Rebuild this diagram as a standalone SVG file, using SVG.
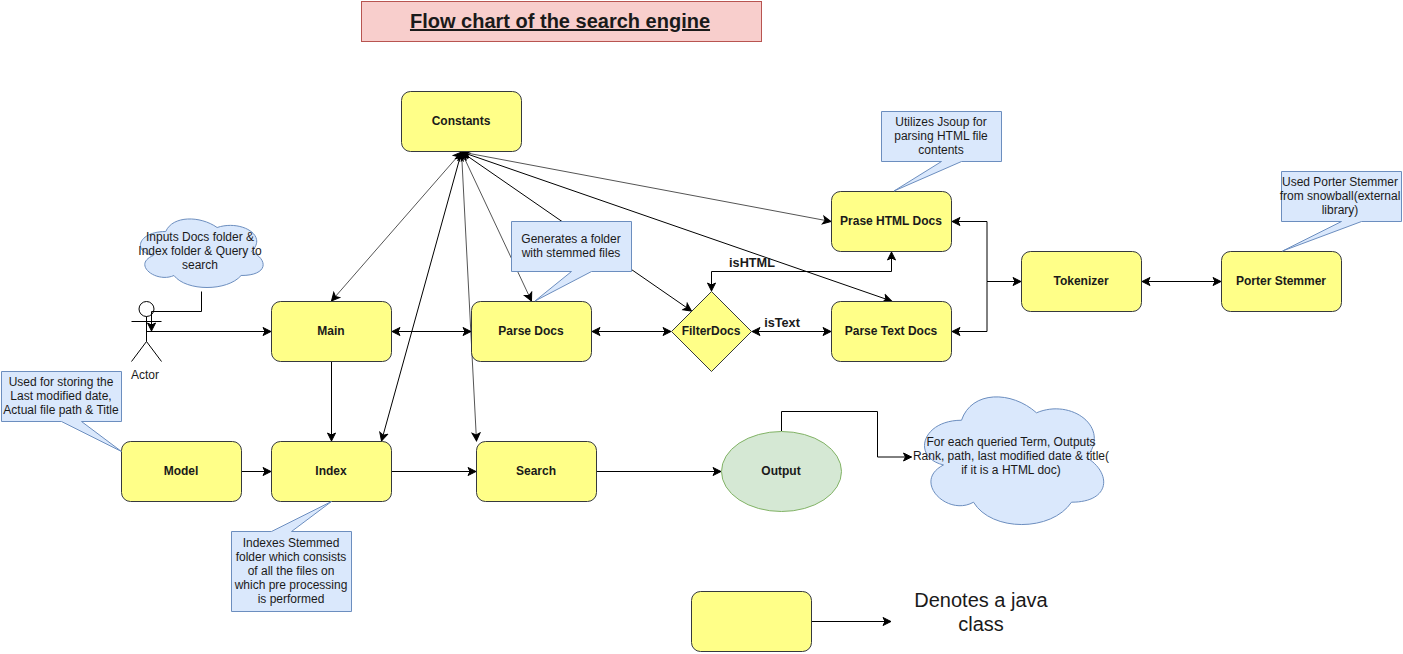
<svg xmlns="http://www.w3.org/2000/svg" width="1403" height="654" viewBox="0 0 1403 654">
<style>
text{font-family:"Liberation Sans",Arial,Helvetica,sans-serif;font-size:12px;fill:#1a1a1a;text-anchor:middle}
.b{font-weight:bold}
.box{fill:#ffff88;stroke:#36393d;stroke-width:1}
.note{fill:#dae8fc;stroke:#6c8ebf;stroke-width:1}
.c{fill:none;stroke:#000;stroke-width:1;marker-end:url(#a)}
.d{fill:none;stroke:#000;stroke-width:1;marker-start:url(#a);marker-end:url(#a)}
.g{stroke:#555}
.actor{fill:none;stroke:#000;stroke-width:1}
</style>
<defs>
<marker id="a" markerUnits="userSpaceOnUse" markerWidth="12" markerHeight="12" viewBox="-9 -6 12 12" refX="0" refY="0" orient="auto-start-reverse">
<path d="M-8,-4 L0,0 L-8,4 L-6,0 Z" fill="#000" stroke="#000" stroke-width="1"/>
</marker>
<path id="cloud" d="M0.25,0.25 C0.05,0.25 0,0.5 0.16,0.55 C0,0.66 0.18,0.9 0.31,0.8 C0.4,1 0.7,1 0.8,0.8 C1,0.8 1,0.6 0.875,0.5 C1,0.3 0.8,0.1 0.625,0.2 C0.5,0.05 0.3,0.05 0.25,0.25 Z" vector-effect="non-scaling-stroke"/>
</defs>
<g id="connectors">
<path class="c" d="M201.5,291.5 V311.5 H151.5 V331"/>
<path class="c" d="M146.5,331.5 H271"/>
<path class="d g" d="M461.5,152 L331.5,301"/>
<path class="d" d="M461.5,152 L381.5,441"/>
<path class="d g" d="M461.5,152 L476.5,441"/>
<path class="d g" d="M461.5,152 L531.5,301"/>
<path class="d" d="M461.5,152 L691.5,311"/>
<path class="d" d="M461.5,152 L891.5,301"/>
<path class="d g" d="M461.5,152 L831,221.5"/>
<path class="d" d="M392,331.5 H471"/>
<path class="d" d="M592,331.5 H671"/>
<path class="d" d="M752,331.5 H831"/>
<path class="d" d="M711.5,291 V271.5 H891.5 V252"/>
<path class="d" d="M952,221.5 H987 V281.5 H1021"/>
<path class="c" d="M987,281.5 V331.5 H952"/>
<path class="d" d="M1142,281.5 H1221"/>
<path class="c" d="M331.5,362 V441"/>
<path class="c" d="M242,471.5 H271"/>
<path class="c" d="M392,471.5 H476"/>
<path class="c" d="M597,471.5 H721"/>
<path class="c" d="M781.5,431 V411.5 H877.5 V457 H911.5"/>
<path class="c" d="M812,621.5 H891"/>
</g>
<g id="title"><rect x="361.5" y="1.5" width="400" height="40" fill="#f8cecc" stroke="#b85450"/><text x="560" y="28" class="b" style="font-size:20px;text-decoration:underline">Flow chart of the search engine</text></g>
<g id="constants"><rect class="box" x="401.5" y="91.5" width="120" height="60" rx="9"/><text x="461" y="125" class="b">Constants</text></g>
<g id="main"><rect class="box" x="271.5" y="301.5" width="120" height="60" rx="9"/><text x="331" y="335" class="b">Main</text></g>
<g id="parse-docs"><rect class="box" x="471.5" y="301.5" width="120" height="60" rx="9"/><text x="531" y="335" class="b">Parse Docs</text></g>
<g id="filter-docs"><path class="box" d="M671.5,331.5 L711.5,291.5 L751.5,331.5 L711.5,371.5 Z"/><text x="711" y="335" class="b">FilterDocs</text></g>
<g id="parse-html"><rect class="box" x="831.5" y="191.5" width="120" height="60" rx="9"/><text x="891" y="225" class="b">Prase HTML Docs</text></g>
<g id="parse-text"><rect class="box" x="831.5" y="301.5" width="120" height="60" rx="9"/><text x="891" y="335" class="b">Parse Text Docs</text></g>
<g id="tokenizer"><rect class="box" x="1021.5" y="251.5" width="120" height="60" rx="9"/><text x="1081" y="285" class="b">Tokenizer</text></g>
<g id="porter-stemmer"><rect class="box" x="1221.5" y="251.5" width="120" height="60" rx="9"/><text x="1281" y="285" class="b">Porter Stemmer</text></g>
<g id="model"><rect class="box" x="121.5" y="441.5" width="120" height="60" rx="9"/><text x="181" y="475" class="b">Model</text></g>
<g id="index"><rect class="box" x="271.5" y="441.5" width="120" height="60" rx="9"/><text x="331" y="475" class="b">Index</text></g>
<g id="search"><rect class="box" x="476.5" y="441.5" width="120" height="60" rx="9"/><text x="536" y="475" class="b">Search</text></g>
<g id="output"><ellipse cx="781.5" cy="471.5" rx="60" ry="40" fill="#d5e8d4" stroke="#82b366"/><text x="781" y="475" class="b">Output</text></g>
<g id="legend-class"><rect class="box" x="691.5" y="591.5" width="120" height="60" rx="9"/></g>
<g id="legend-text"><text x="981" y="607" style="font-size:20px">Denotes a java</text><text x="981" y="631" style="font-size:20px">class</text></g>
<g id="actor"><circle class="actor" cx="146.5" cy="309" r="7.5"/><path class="actor" d="M146.5,316.5 V341.5 M131.5,321.5 H161.5 M146.5,341.5 L131.5,361.5 M146.5,341.5 L161.5,361.5"/><text x="145" y="379">Actor</text></g>
<g id="cloud-input"><use href="#cloud" class="note" transform="translate(131.5,211.5) scale(137,80)"/><text x="200" y="241">Inputs Docs folder &amp;</text><text x="200" y="255">Index folder &amp; Query to</text><text x="200" y="269">search</text></g>
<g id="cloud-output"><use href="#cloud" class="note" transform="translate(911.5,383) scale(200,149)"/><text x="1011" y="446">For each queried Term, Outputs</text><text x="1011" y="460">Rank, path, last modified date &amp; title(</text><text x="1011" y="474">if it is a HTML doc)</text></g>
<g id="note-model"><path class="note" d="M1.5,371.5 H121.5 V421.5 H81.5 L121.5,451.5 L61.5,421.5 H1.5 Z"/><text x="61" y="386">Used for storing the</text><text x="61" y="400">Last modified date,</text><text x="61" y="414">Actual file path &amp; Title</text></g>
<g id="note-index"><path class="note" d="M231.5,531.5 H271.5 L331.5,501.5 L291.5,531.5 H351.5 V611.5 H231.5 Z"/><text x="291" y="547">Indexes Stemmed</text><text x="291" y="561">folder which consists</text><text x="291" y="575">of all the files on</text><text x="291" y="589">which pre processing</text><text x="291" y="603">is performed</text></g>
<g id="note-parse"><path class="note" d="M511.5,221.5 H631.5 V271.5 H591.5 L535,301 L571.5,271.5 H511.5 Z"/><text x="571" y="243">Generates a folder</text><text x="571" y="257">with stemmed files</text></g>
<g id="note-jsoup"><path class="note" d="M881.5,111.5 H1001.5 V161.5 H961.5 L894,191 L941.5,161.5 H881.5 Z"/><text x="941" y="126">Utilizes Jsoup for</text><text x="941" y="140">parsing HTML file</text><text x="941" y="154">contents</text></g>
<g id="note-porter"><path class="note" d="M1281.5,171.5 H1401.5 V221.5 H1361.5 L1282.5,251 L1341.5,221.5 H1281.5 Z"/><text x="1340" y="186">Used Porter Stemmer</text><text x="1340" y="200">from snowball(external</text><text x="1340" y="214">library)</text></g>
<g id="labels"><text x="752" y="266.5" class="b" style="font-size:12.7px">isHTML</text><text x="782" y="327" class="b" style="font-size:12.7px">isText</text></g>
</svg>
